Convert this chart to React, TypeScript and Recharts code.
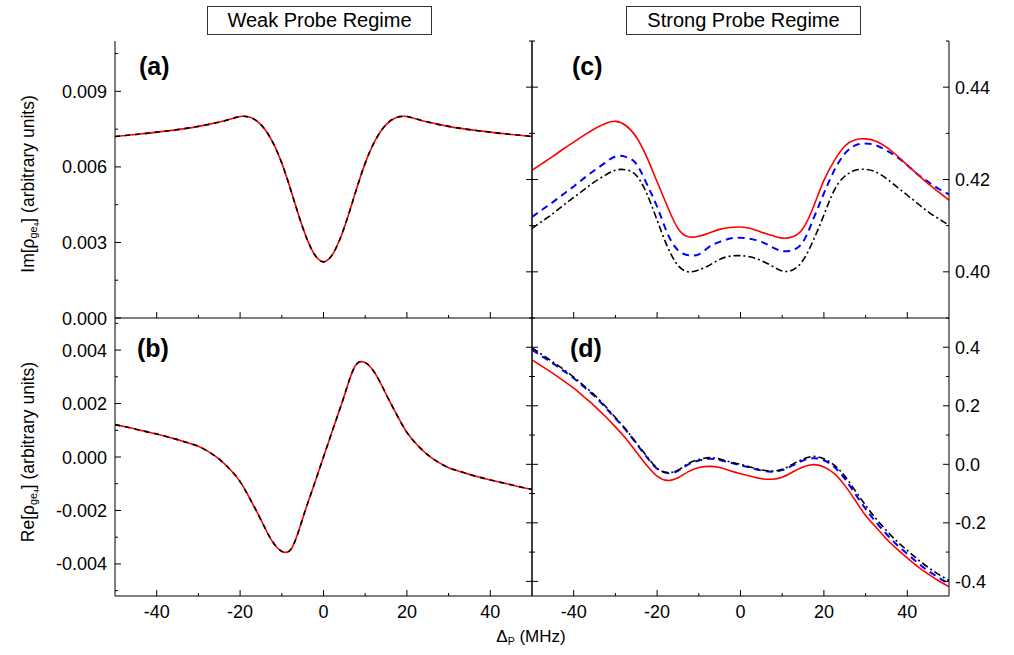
import React from 'react';
import { LineChart, Line, XAxis, YAxis } from 'recharts';

// probe detuning (MHz)
const detuning = [
  -50, -47.5, -45, -42.5, -40, -37.5, -35, -32.5, -30, -27.5, -25, -22.5, -20, -17.5, -15, -12.5, -10, -7.5, -5, -2.5,
  0, 2.5, 5, 7.5, 10, 12.5, 15, 17.5, 20, 22.5, 25, 27.5, 30, 32.5, 35, 37.5, 40, 42.5, 45, 47.5, 50,
];

// (a) weak probe, absorption
const imWeak = [
  0.00721, 0.00725, 0.00729, 0.00733, 0.00738, 0.00743, 0.00748, 0.00754, 0.00761, 0.00769, 0.00778, 0.00789, 0.008,
  0.00796, 0.00768, 0.00708, 0.00615, 0.0049, 0.0036, 0.00262, 0.00223, 0.00262, 0.0036, 0.0049, 0.00615, 0.00708,
  0.00768, 0.00796, 0.008, 0.00789, 0.00778, 0.00769, 0.00761, 0.00754, 0.00748, 0.00743, 0.00738, 0.00733, 0.00729,
  0.00725, 0.00721,
];

// (b) weak probe, dispersion
const reWeak = [
  0.00121, 0.00113, 0.00104, 0.00095, 0.00086, 0.00076, 0.00065, 0.00053, 0.0004, 0.00019, -0.00008, -0.00045, -0.00092,
  -0.0016, -0.00235, -0.0031, -0.00353, -0.00338, -0.0023, -0.00115, 0, 0.00115, 0.0023, 0.00338, 0.00353, 0.0031,
  0.00235, 0.0016, 0.00092, 0.00045, 0.00008, -0.00019, -0.0004, -0.00053, -0.00065, -0.00076, -0.00086, -0.00095,
  -0.00104, -0.00113, -0.00121,
];

// (c) strong probe, absorption
const imStrongRed = [
  0.422, 0.4235, 0.425, 0.4266, 0.4281, 0.4296, 0.431, 0.4321, 0.4326, 0.4317, 0.4292, 0.4249, 0.4195, 0.4141, 0.4094,
  0.4076, 0.4077, 0.4084, 0.4092, 0.4096, 0.4097, 0.4094, 0.4086, 0.4079, 0.4073, 0.4076, 0.4094, 0.4141, 0.4198,
  0.4241, 0.4272, 0.4286, 0.4288, 0.4283, 0.427, 0.4252, 0.4231, 0.4211, 0.4191, 0.4173, 0.4155,
];
const imStrongBlue = [
  0.4119, 0.4135, 0.4151, 0.4168, 0.4185, 0.4203, 0.422, 0.4236, 0.425, 0.4249, 0.4234, 0.4191, 0.4141, 0.4083, 0.4047,
  0.4036, 0.4038, 0.4054, 0.4065, 0.4072, 0.4074, 0.4071, 0.4065, 0.4054, 0.4045, 0.4047, 0.4065, 0.4115, 0.417,
  0.422, 0.4256, 0.4274, 0.4278, 0.4274, 0.4263, 0.4249, 0.4231, 0.4211, 0.4195, 0.418, 0.4168,
];
const imStrongBlack = [
  0.4094, 0.411, 0.4126, 0.4144, 0.4161, 0.4178, 0.4195, 0.4209, 0.422, 0.4221, 0.4209, 0.417, 0.4112, 0.4054, 0.4014,
  0.4, 0.4004, 0.4014, 0.4027, 0.4034, 0.4035, 0.4032, 0.4024, 0.4013, 0.4002, 0.4004, 0.4025, 0.4069, 0.4123, 0.4177,
  0.4207, 0.422, 0.4222, 0.4216, 0.4202, 0.4184, 0.4166, 0.4148, 0.413, 0.4115, 0.4101,
];

// (d) strong probe, dispersion
const reStrongRed = [
  0.357, 0.334, 0.311, 0.286, 0.26, 0.23, 0.199, 0.165, 0.128, 0.088, 0.042, -0.003, -0.04, -0.055, -0.046, -0.025,
  -0.011, -0.007, -0.011, -0.022, -0.032, -0.041, -0.049, -0.051, -0.044, -0.026, -0.009, -0.001, -0.009, -0.032,
  -0.072, -0.123, -0.175, -0.215, -0.255, -0.289, -0.32, -0.35, -0.375, -0.398, -0.418,
];
const reStrongBlue = [
  0.391, 0.368, 0.345, 0.32, 0.294, 0.264, 0.233, 0.196, 0.157, 0.117, 0.071, 0.025, -0.015, -0.03, -0.022, 0, 0.013,
  0.019, 0.015, 0.006, -0.003, -0.012, -0.021, -0.025, -0.02, -0.004, 0.013, 0.021, 0.014, -0.009, -0.049, -0.101,
  -0.152, -0.198, -0.238, -0.275, -0.306, -0.337, -0.364, -0.387, -0.409,
];
const reStrongBlack = [
  0.398, 0.374, 0.35, 0.325, 0.298, 0.268, 0.237, 0.2, 0.16, 0.12, 0.074, 0.028, -0.013, -0.028, -0.02, 0.003, 0.016,
  0.023, 0.018, 0.008, 0, -0.01, -0.019, -0.023, -0.017, 0, 0.018, 0.027, 0.019, -0.003, -0.04, -0.09, -0.14, -0.186,
  -0.226, -0.263, -0.294, -0.325, -0.352, -0.376, -0.397,
];

const xTicks = [-40, -30, -20, -10, 0, 10, 20, 30, 40];
const xMajor = [-40, -20, 0, 20, 40];
const aTicks = [0, 0.0015, 0.003, 0.0045, 0.006, 0.0075, 0.009, 0.0105];
const aMajor = [0, 0.003, 0.006, 0.009];
const bTicks = [-0.005, -0.004, -0.003, -0.002, -0.001, 0, 0.001, 0.002, 0.003, 0.004, 0.005];
const bMajor = [-0.004, -0.002, 0, 0.002, 0.004];
const cTicks = [0.39, 0.4, 0.41, 0.42, 0.43, 0.44, 0.45];
const cMajor = [0.4, 0.42, 0.44];
const dTicks = [-0.4, -0.3, -0.2, -0.1, 0, 0.1, 0.2, 0.3, 0.4];
const dMajor = [-0.4, -0.2, 0, 0.2, 0.4];

const rows = detuning.map((x, i) => ({
  x,
  imWeak: imWeak[i],
  reWeak: reWeak[i],
  imRed: imStrongRed[i],
  imBlue: imStrongBlue[i],
  imBlack: imStrongBlack[i],
  reRed: reStrongRed[i],
  reBlue: reStrongBlue[i],
  reBlack: reStrongBlack[i],
}));

const FONT = '"Liberation Sans", Arial, Helvetica, sans-serif';
const PW = 417;

const isMajor = (list: number[], v: number) => list.some((m) => Math.abs(m - v) < 1e-9);

const xTick = (edge: 'top' | 'bottom', labels: boolean) => (p: any) => {
  const v = p.payload.value;
  const major = isMajor(xMajor, v);
  const len = major ? 6 : 3;
  const y2 = edge === 'bottom' ? p.y - len : p.y + len;
  return (
    <g>
      <line x1={p.x} y1={p.y} x2={p.x} y2={y2} stroke="#000" strokeWidth={1} />
      {labels && major ? (
        <text x={p.x} y={p.y + 22} textAnchor="middle" fontSize={18} fontFamily={FONT} fill="#000">
          {String(v)}
        </text>
      ) : null}
    </g>
  );
};

const yTick =
  (side: 'left' | 'right', both: boolean, majors: number[], fmt: ((v: number) => string) | null) => (p: any) => {
    const v = p.payload.value;
    const major = isMajor(majors, v);
    const len = major ? 6 : 3;
    const dir = side === 'left' ? 1 : -1;
    const x1 = both ? p.x - len : p.x;
    const x2 = p.x + dir * len;
    return (
      <g>
        <line x1={x1} y1={p.y} x2={x2} y2={p.y} stroke="#000" strokeWidth={1} />
        {fmt && major ? (
          <text
            x={side === 'left' ? p.x - 8 : p.x + 6}
            y={p.y + 6.5}
            textAnchor={side === 'left' ? 'end' : 'start'}
            fontSize={18}
            fontFamily={FONT}
            fill="#000"
          >
            {fmt(v)}
          </text>
        ) : null}
      </g>
    );
  };

interface LineDef {
  key: string;
  color: string;
  width: number;
  dash?: string;
}

interface PanelProps {
  left: number;
  top: number;
  height: number;
  domain: [number, number];
  ticks: number[];
  majors: number[];
  fmt: (v: number) => string;
  side: 'left' | 'right';
  xLabels: boolean;
  lines: LineDef[];
}

const Panel = ({ left, top, height, domain, ticks, majors, fmt, side, xLabels, lines }: PanelProps) => (
  <div style={{ position: 'absolute', left: left - 70, top: top - 10 }}>
    <LineChart width={PW + 140} height={height + 60} data={rows} margin={{ top: 10, right: 0, bottom: 0, left: 0 }}>
      <XAxis
        xAxisId="b"
        dataKey="x"
        type="number"
        domain={[-50, 50]}
        allowDataOverflow
        ticks={xTicks}
        interval={0}
        height={50}
        tickSize={0}
        tickMargin={0}
        tickLine={false}
        axisLine={{ stroke: '#000' }}
        tick={xTick('bottom', xLabels)}
      />
      <XAxis
        xAxisId="t"
        orientation="top"
        dataKey="x"
        type="number"
        domain={[-50, 50]}
        allowDataOverflow
        ticks={xTicks}
        interval={0}
        height={0}
        tickSize={0}
        tickMargin={0}
        tickLine={false}
        axisLine={{ stroke: '#000' }}
        tick={xTick('top', false)}
      />
      <YAxis
        yAxisId="l"
        type="number"
        domain={domain}
        allowDataOverflow
        ticks={ticks}
        interval={0}
        width={70}
        tickSize={0}
        tickMargin={0}
        tickLine={false}
        axisLine={{ stroke: '#000' }}
        tick={side === 'left' ? yTick('left', false, majors, fmt) : yTick('left', true, majors, null)}
      />
      <YAxis
        yAxisId="r"
        orientation="right"
        type="number"
        domain={domain}
        allowDataOverflow
        ticks={ticks}
        interval={0}
        width={70}
        tickSize={0}
        tickMargin={0}
        tickLine={false}
        axisLine={{ stroke: '#000' }}
        tick={side === 'right' ? yTick('right', false, majors, fmt) : false}
      />
      {lines.map((l) => (
        <Line
          key={l.key + l.color}
          xAxisId="b"
          yAxisId="l"
          type="natural"
          dataKey={l.key}
          stroke={l.color}
          strokeWidth={l.width}
          strokeDasharray={l.dash}
          dot={false}
          activeDot={false}
          isAnimationActive={false}
        />
      ))}
    </LineChart>
  </div>
);

const tagStyle = (left: number, top: number): React.CSSProperties => ({
  position: 'absolute',
  left,
  top,
  fontFamily: FONT,
  fontWeight: 'bold',
  fontSize: 25,
  lineHeight: '25px',
  color: '#000',
});

const boxStyle = (left: number, width: number): React.CSSProperties => ({
  position: 'absolute',
  left,
  top: 6,
  width,
  height: 29,
  boxSizing: 'border-box',
  border: '1px solid #333',
  fontFamily: FONT,
  fontSize: 20,
  lineHeight: '27px',
  textAlign: 'center',
  color: '#000',
});

const subStyle: React.CSSProperties = { fontSize: '0.62em', verticalAlign: '-0.3em', lineHeight: 0 };

const yTitle = (cy: number): React.CSSProperties => ({
  position: 'absolute',
  left: 28,
  top: cy,
  transform: 'translate(-50%, -50%) rotate(-90deg)',
  whiteSpace: 'nowrap',
  fontFamily: FONT,
  fontSize: 17.5,
  color: '#000',
});

export default function App() {
  return (
    <div style={{ position: 'fixed', left: 0, top: 0, width: 1014, height: 655, background: '#fff', overflow: 'hidden' }}>
      <div style={boxStyle(207, 225)}>Weak Probe Regime</div>
      <div style={boxStyle(626, 235)}>Strong Probe Regime</div>

      <Panel
        left={115}
        top={41}
        height={277}
        domain={[0, 0.011]}
        ticks={aTicks}
        majors={aMajor}
        fmt={(v) => v.toFixed(3)}
        side="left"
        xLabels={false}
        lines={[
          { key: 'imWeak', color: '#ff0000', width: 1.6 },
          { key: 'imWeak', color: '#000000', width: 1.6, dash: '5 5' },
        ]}
      />
      <Panel
        left={115}
        top={318}
        height={278}
        domain={[-0.0052, 0.0052]}
        ticks={bTicks}
        majors={bMajor}
        fmt={(v) => v.toFixed(3)}
        side="left"
        xLabels={true}
        lines={[
          { key: 'reWeak', color: '#ff0000', width: 1.6 },
          { key: 'reWeak', color: '#000000', width: 1.6, dash: '5 5' },
        ]}
      />
      <Panel
        left={532}
        top={41}
        height={277}
        domain={[0.39, 0.45]}
        ticks={cTicks}
        majors={cMajor}
        fmt={(v) => v.toFixed(2)}
        side="right"
        xLabels={false}
        lines={[
          { key: 'imBlack', color: '#000000', width: 1.6, dash: '7 3 2 3' },
          { key: 'imBlue', color: '#0000ff', width: 2, dash: '7 5' },
          { key: 'imRed', color: '#ff0000', width: 1.6 },
        ]}
      />
      <Panel
        left={532}
        top={318}
        height={278}
        domain={[-0.45, 0.5]}
        ticks={dTicks}
        majors={dMajor}
        fmt={(v) => v.toFixed(1)}
        side="right"
        xLabels={true}
        lines={[
          { key: 'reRed', color: '#ff0000', width: 1.6 },
          { key: 'reBlue', color: '#0000ff', width: 2, dash: '7 5' },
          { key: 'reBlack', color: '#000000', width: 1.6, dash: '7 3 2 3' },
        ]}
      />

      <div style={tagStyle(139, 54)}>(a)</div>
      <div style={tagStyle(137, 336)}>(b)</div>
      <div style={tagStyle(572, 54)}>(c)</div>
      <div style={tagStyle(570, 336)}>(d)</div>

      <div style={yTitle(184)}>
        Im[ρ<span style={subStyle}>ge<span style={subStyle}>4</span></span>] (arbitrary units)
      </div>
      <div style={yTitle(452)}>
        Re[ρ<span style={subStyle}>ge<span style={subStyle}>4</span></span>] (arbitrary units)
      </div>

      <div
        style={{
          position: 'absolute',
          left: 531,
          top: 637,
          transform: 'translate(-50%, -50%)',
          whiteSpace: 'nowrap',
          fontFamily: FONT,
          fontSize: 17,
          color: '#000',
        }}
      >
        Δ<span style={subStyle}>P</span> (MHz)
      </div>
    </div>
  );
}
